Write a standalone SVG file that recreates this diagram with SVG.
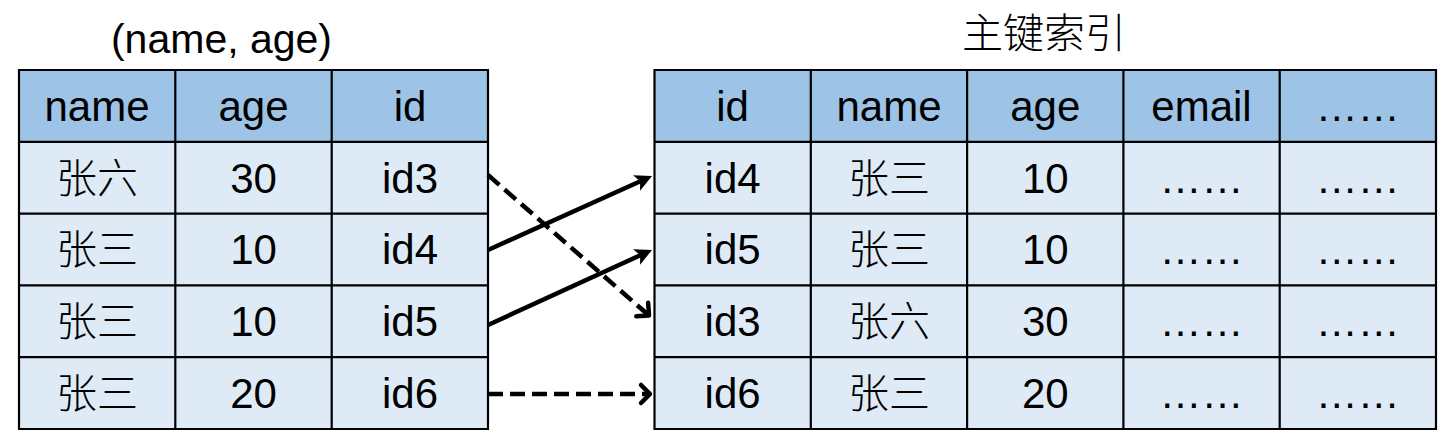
<svg xmlns="http://www.w3.org/2000/svg" width="1450" height="440" viewBox="0 0 1450 440">
<style>
.hd{fill:#9dc3e6;}
.bd{fill:#deebf7;}
.grid{stroke:#000;stroke-width:2.2;fill:none;}
text{font-family:"Liberation Sans",Arial,"Noto Sans CJK SC",sans-serif;font-size:42px;fill:#000;text-anchor:middle;}
.cn{font-family:"Noto Sans CJK SC","Liberation Sans",sans-serif;font-size:41px;font-weight:300;}
.ttl{font-size:41px;}
.solid{stroke:#000;stroke-width:4.5;fill:none;marker-end:url(#fill);}
.dash{stroke:#000;stroke-width:4.5;fill:none;stroke-dasharray:15 7;marker-end:url(#open);}
</style>
<defs>
<marker id="fill" markerUnits="userSpaceOnUse" viewBox="-10 -10 22 20" markerWidth="22" markerHeight="20" refX="0" refY="0" orient="auto">
<path d="M11,0 L-6,-8.5 L-2,0 L-6,8.5 Z" fill="#000"/>
</marker>
<marker id="open" markerUnits="userSpaceOnUse" viewBox="-14 -14 28 28" markerWidth="28" markerHeight="28" refX="0" refY="0" orient="auto">
<path d="M-9,-9 L0,0 L-9,9" fill="none" stroke="#000" stroke-width="4.5" stroke-linecap="round" stroke-linejoin="round"/>
</marker>
</defs>

<g id="left-title"><text class="ttl" x="221.5" y="53">(name, age)</text></g>

<g id="left-table">
<rect class="hd" x="19" y="70" width="469" height="71.8"/>
<rect class="bd" x="19" y="141.8" width="469" height="287.2"/>
<path class="grid" d="M19,70 H488 V429 H19 Z M19,141.8 H488 M19,213.6 H488 M19,285.4 H488 M19,357.2 H488 M175.3,70 V429 M331.7,70 V429"/>
<text x="97" y="121">name</text>
<text x="253.5" y="121">age</text>
<text x="410" y="121">id</text>
<text class="cn" x="97" y="192.5">张六</text>
<text x="253.5" y="192.5">30</text>
<text x="410" y="192.5">id3</text>
<text class="cn" x="97" y="264.3">张三</text>
<text x="253.5" y="264.3">10</text>
<text x="410" y="264.3">id4</text>
<text class="cn" x="97" y="336.1">张三</text>
<text x="253.5" y="336.1">10</text>
<text x="410" y="336.1">id5</text>
<text class="cn" x="97" y="407.9">张三</text>
<text x="253.5" y="407.9">20</text>
<text x="410" y="407.9">id6</text>
</g>

<g id="right-title"><text class="cn" x="1044" y="48">主键索引</text></g>

<g id="right-table">
<rect class="hd" x="654.5" y="70" width="781.5" height="71.8"/>
<rect class="bd" x="654.5" y="141.8" width="781.5" height="287.2"/>
<path class="grid" d="M654.5,70 H1436 V429 H654.5 Z M654.5,141.8 H1436 M654.5,213.6 H1436 M654.5,285.4 H1436 M654.5,357.2 H1436 M810.8,70 V429 M967.1,70 V429 M1123.4,70 V429 M1279.7,70 V429"/>
<text x="732.6" y="121">id</text>
<text x="889" y="121">name</text>
<text x="1045.3" y="121">age</text>
<text x="1201.5" y="121">email</text>
<text x="1357.8" y="121">……</text>
<text x="732.6" y="192.5">id4</text>
<text class="cn" x="889" y="192.5">张三</text>
<text x="1045.3" y="192.5">10</text>
<text x="1201.5" y="192.5">……</text>
<text x="1357.8" y="192.5">……</text>
<text x="732.6" y="264.3">id5</text>
<text class="cn" x="889" y="264.3">张三</text>
<text x="1045.3" y="264.3">10</text>
<text x="1201.5" y="264.3">……</text>
<text x="1357.8" y="264.3">……</text>
<text x="732.6" y="336.1">id3</text>
<text class="cn" x="889" y="336.1">张六</text>
<text x="1045.3" y="336.1">30</text>
<text x="1201.5" y="336.1">……</text>
<text x="1357.8" y="336.1">……</text>
<text x="732.6" y="407.9">id6</text>
<text class="cn" x="889" y="407.9">张三</text>
<text x="1045.3" y="407.9">20</text>
<text x="1201.5" y="407.9">……</text>
<text x="1357.8" y="407.9">……</text>
</g>

<g id="connectors">
<line class="dash" x1="488" y1="175" x2="649" y2="315.5"/>
<line class="solid" x1="488" y1="250" x2="642" y2="180.5"/>
<line class="solid" x1="488" y1="325" x2="642" y2="254.5"/>
<line class="dash" x1="488" y1="394" x2="650" y2="394"/>
</g>
</svg>
